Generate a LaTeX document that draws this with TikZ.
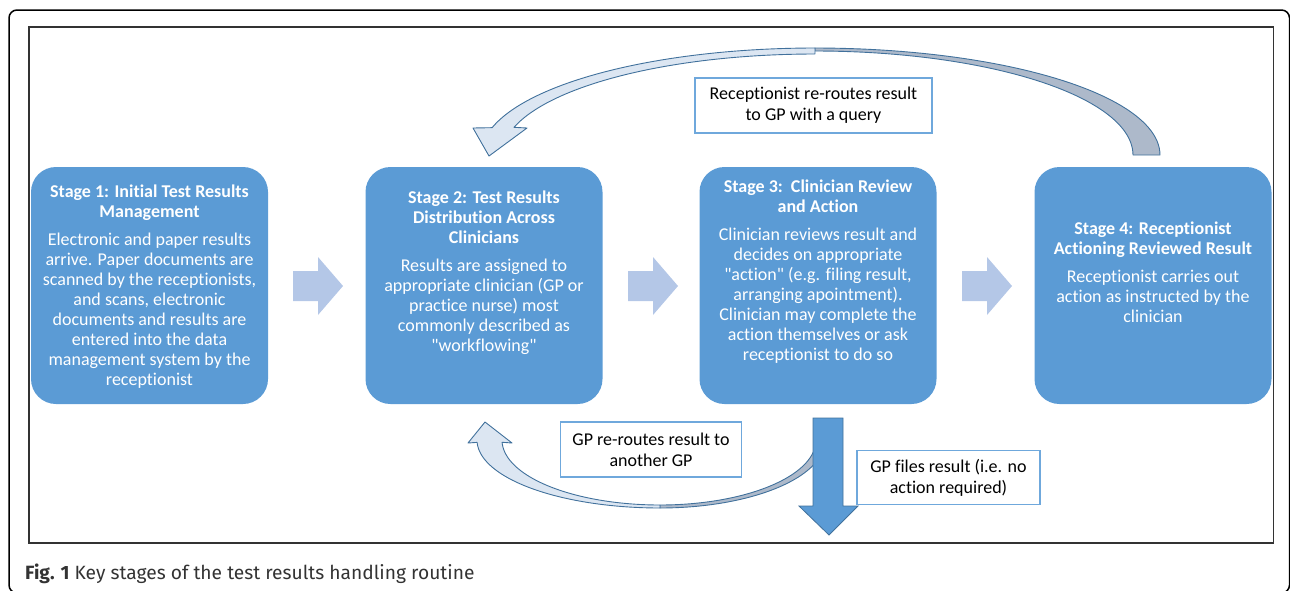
\documentclass[tikz,border=0pt]{standalone}
\usepackage{fontspec}
\setmainfont{Carlito}[Ligatures=NoCommon]
\newfontfamily\capfont{Fira Sans}
\definecolor{boxblue}{HTML}{5B9BD5}
\definecolor{arrlight}{HTML}{B4C7E7}
\definecolor{ribbonlight}{HTML}{DCE6F2}
\definecolor{ribbongray}{HTML}{ADB9CA}
\definecolor{ribbonline}{HTML}{41719C}
\definecolor{lblblue}{HTML}{6FA8DC}
\tikzset{
  stagebox/.style={fill=boxblue, rounded corners=25pt, minimum width=237pt, minimum height=237pt, inner sep=0pt},
  stagetext/.style={text=white, align=center, inner sep=0pt, font=\fontsize{18}{20}\selectfont},
  lblbox/.style={draw=lblblue, line width=1.4pt, fill=white, align=center, inner sep=0pt, font=\fontsize{18}{21}\selectfont},
  ribbonA/.style={fill=ribbonlight, draw=ribbonline, line width=0.9pt, line join=round},
  ribbonB/.style={fill=ribbongray, draw=ribbonline, line width=0.9pt, line join=round},
  blockarr/.pic={\fill[arrlight] (0,-15) -- (25,-15) -- (25,-29) -- (50,0) -- (25,29) -- (25,15) -- (0,15) -- cycle;}
}
\begin{document}
\begin{tikzpicture}[x=1pt,y=-1pt]
\useasboundingbox (0,0) rectangle (1290,590);
% frames
\draw[line width=1.5pt, rounded corners=8pt] (9,10) rectangle (1289.5,593);
\draw[line width=1.6pt, draw=black!80] (29,27) rectangle (1273.5,543);
% stage boxes
\node[stagebox] (s1) at (149.5,285.5) {};
\node[stagebox] (s2) at (484,285.5) {};
\node[stagebox] (s3) at (818,285.5) {};
\node[stagebox] (s4) at (1153,285.5) {};
\node[stagetext] (t1) at (149.5,287) {\textbf{Stage 1: Initial Test Results}\\\textbf{Management}\\[8pt]Electronic and paper results\\arrive. Paper documents are\\scanned by the receptionists,\\and scans, electronic\\documents and results are\\entered into the data\\management system by the\\receptionist};
\node[stagetext] (t2) at (484,272.5) {\textbf{Stage 2: Test Results}\\\textbf{Distribution Across}\\\textbf{Clinicians}\\[8pt]Results are assigned to\\appropriate clinician (GP or\\practice nurse) most\\commonly described as\\\textquotedbl workflowing\textquotedbl};
\node[stagetext] (t3) at (818,272) {\textbf{Stage 3:\ \ Clinician Review}\\\textbf{and Action}\\[8pt]Clinician reviews result and\\decides on appropriate\\\textquotedbl action\textquotedbl\ (e.g. filing result,\\arranging apointment).\\Clinician may complete the\\action themselves or ask\\receptionist to do so};
\node[stagetext] (t4) at (1153,272) {\textbf{Stage 4: Receptionist}\\\textbf{Actioning Reviewed Result}\\[8pt]Receptionist carries out\\action as instructed by the\\clinician};
% block arrows between stages
\pic at (293,286) {blockarr};
\pic at (628,286) {blockarr};
\pic at (962,286) {blockarr};
% top curved arrow (stage 4 back to stage 2)
\filldraw[ribbonB] plot[domain=0:90, samples=50, variable=\t] ({815+345*cos(\t)},{155-107*sin(\t)}) -- plot[domain=90:0, samples=50, variable=\t] ({815+318*cos(\t)},{155-104*sin(\t)}) -- cycle;
\filldraw[ribbonA] plot[domain=90:165.2, samples=50, variable=\t] ({815+334*cos(\t)},{155-107*sin(\t)}) -- (473,128) -- (489,156) -- (527,128) -- plot[domain=164.1:90, samples=50, variable=\t] ({815+313*cos(\t)},{155-101*sin(\t)}) -- cycle;
\node[lblbox, minimum width=237pt, minimum height=55pt] (l1) at (813.5,105.5) {Receptionist re-routes result\\to GP with a query};
% bottom curved arrow (stage 3 back to stage 2)
\filldraw[ribbonB] plot[domain=90:0, samples=50, variable=\t] ({660+165*cos(\t)},{440+68*sin(\t)}) -- plot[domain=0:90, samples=50, variable=\t] ({660+156*cos(\t)},{440+65*sin(\t)}) -- cycle;
\filldraw[ribbonA] plot[domain=90:178, samples=50, variable=\t] ({660+183*cos(\t)},{440+68*sin(\t)}) -- (468,443) -- (485,422) -- (512,443) -- plot[domain=178:90, samples=50, variable=\t] ({660+158*cos(\t)},{440+65*sin(\t)}) -- cycle;
\node[lblbox, minimum width=181pt, minimum height=55pt] (l2) at (651,449.5) {GP re-routes result to\\another GP};
% down arrow (GP files result)
\filldraw[fill=boxblue, draw=ribbonline, line width=0.8pt, line join=miter] (813,418) -- (843,418) -- (843,506) -- (858,506) -- (829,535) -- (799,506) -- (813,506) -- cycle;
\node[lblbox, minimum width=183pt, minimum height=54pt] (l3) at (948.5,477.5) {GP files result (i.e. no\\action required)};
% caption
\node[anchor=base west, inner sep=0pt, font=\capfont\fontsize{19.2}{21}\selectfont, text=black!80] (cap) at (25,579) {\textbf{Fig. 1} Key stages of the test results handling routine};
\end{tikzpicture}
\end{document}
